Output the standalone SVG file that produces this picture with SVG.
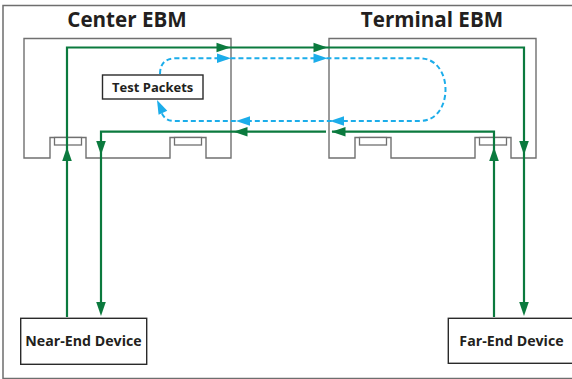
<svg xmlns="http://www.w3.org/2000/svg" xmlns:xlink="http://www.w3.org/1999/xlink" width="572" height="379" viewBox="0 0 572 379">
  <style>
    .frame { fill: #ffffff; stroke: #6e6e6e; stroke-width: 1.5; }
    .ebm { fill: #ffffff; stroke: #707070; stroke-width: 1.4; }
    .port { fill: #ffffff; stroke: #707070; stroke-width: 1.3; }
    .box { fill: #ffffff; stroke: #2a2a2a; stroke-width: 1.4; }
    .title { font-family: "Open Sans", "Noto Sans", "Liberation Sans", sans-serif; font-weight: bold; font-size: 20.6px; fill: #231f20; text-anchor: middle; }
    .label { font-family: "Open Sans", "Noto Sans", "Liberation Sans", sans-serif; font-weight: bold; font-size: 13px; fill: #231f20; text-anchor: middle; }
    .dev { font-size: 14.2px; }
    .g { fill: none; stroke: #0b7a3e; stroke-width: 2.2; }
    .b { fill: none; stroke: #1cadea; stroke-width: 2; stroke-dasharray: 5 3; }
    .gh { fill: #0b7a3e; }
    .bh { fill: #1cadea; }
  </style>
  <defs>
    <!-- arrowhead pointing along +x, tip at origin -->
    <path id="ah" d="M0,0 L-14,-4.8 L-14,4.8 Z"/>
  </defs>

  <rect class="frame" x="3" y="5.5" width="575" height="373"/>

  <g id="center-ebm">
    <path class="ebm" d="M24,158 V38.5 H231 V158 H206 V137.5 H170 V158 H86 V137.5 H50 V158 Z"/>
    <rect class="port" x="54.5" y="137.5" width="27" height="7.5"/>
    <rect class="port" x="174.5" y="137.5" width="27" height="7.5"/>
    <text class="title" x="127" y="27">Center EBM</text>
  </g>

  <g id="terminal-ebm">
    <path class="ebm" d="M329,158 V38.5 H536 V158 H511 V137.5 H475 V158 H391 V137.5 H355 V158 Z"/>
    <rect class="port" x="359.5" y="137.5" width="27" height="7.5"/>
    <rect class="port" x="479.5" y="137.5" width="27" height="7.5"/>
    <text class="title" x="432" y="27">Terminal EBM</text>
  </g>

  <g id="test-packets">
    <rect class="box" x="102.5" y="75" width="100.5" height="24"/>
    <text class="label" x="152.7" y="92">Test Packets</text>
  </g>

  <g id="near-end-device">
    <rect class="box" x="20.7" y="318.3" width="126" height="46"/>
    <text class="label dev" x="83.5" y="345.7">Near-End Device</text>
  </g>

  <g id="far-end-device">
    <rect class="box" x="448.3" y="318.3" width="130" height="45"/>
    <text class="label dev" x="511.5" y="345.7">Far-End Device</text>
  </g>

  <g id="connectors">
    <!-- outbound path: near-end up, across both EBMs, down to far-end -->
    <path class="g" d="M67,317 V47.5 H524 V304"/>
    <!-- return path: far-end up, back across, down to near-end -->
    <path class="g" d="M494,317 V131.7 H332"/>
    <path class="g" d="M326,131.7 H101 V304"/>

    <use xlink:href="#ah" class="gh" transform="translate(67,147)rotate(-90)"/>
    <use xlink:href="#ah" class="gh" transform="translate(230.5,47.5)"/>
    <use xlink:href="#ah" class="gh" transform="translate(327.5,47.5)"/>
    <use xlink:href="#ah" class="gh" transform="translate(524,155)rotate(90)"/>
    <use xlink:href="#ah" class="gh" transform="translate(524,316)rotate(90)"/>
    <use xlink:href="#ah" class="gh" transform="translate(494,147)rotate(-90)"/>
    <use xlink:href="#ah" class="gh" transform="translate(331.5,131.7)rotate(180)"/>
    <use xlink:href="#ah" class="gh" transform="translate(233.5,131.7)rotate(180)"/>
    <use xlink:href="#ah" class="gh" transform="translate(101,155)rotate(90)"/>
    <use xlink:href="#ah" class="gh" transform="translate(101,316)rotate(90)"/>

    <!-- test packet loop -->
    <path class="b" d="M160,74 Q160,58.3 176,58.3 H420 C454,58.3 454,121 420,121 H174 Q163,121 160,108"/>
    <use xlink:href="#ah" class="bh" transform="translate(231,58.3)"/>
    <use xlink:href="#ah" class="bh" transform="translate(327.5,58.3)"/>
    <use xlink:href="#ah" class="bh" transform="translate(330,121)rotate(180)"/>
    <use xlink:href="#ah" class="bh" transform="translate(236,121)rotate(180)"/>
    <use xlink:href="#ah" class="bh" transform="translate(157,100)rotate(245)"/>
  </g>
</svg>
